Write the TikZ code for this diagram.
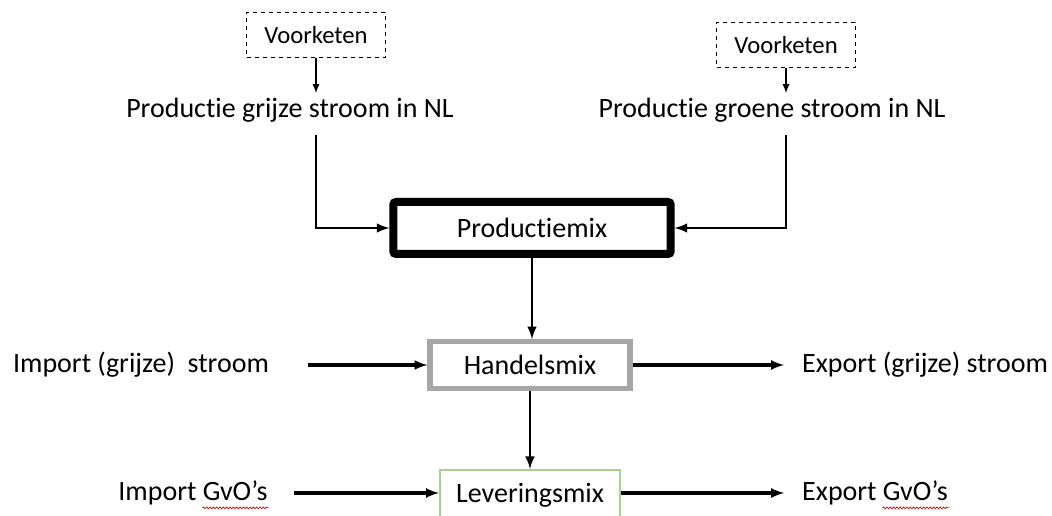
\documentclass[tikz,border=0pt]{standalone}
\usepackage{fontspec}
\setmainfont[Ligatures=NoCommon]{Carlito}
\usepackage{tikz}
\usetikzlibrary{positioning}
\usetikzlibrary{arrows}
\usetikzlibrary{calc}
\usetikzlibrary{decorations.pathmorphing}
\definecolor{grijs}{RGB}{166,166,166}
\definecolor{groen}{RGB}{169,208,142}
\tikzset{
  txt/.style={font=\fontsize{21}{25}\selectfont},
  keten/.style={draw, dashed, thin, minimum width=104pt, minimum height=34pt, font=\fontsize{18.5}{22}\selectfont},
  mixbox/.style={draw, minimum height=39pt, font=\fontsize{21}{25}\selectfont},
  spell/.style={red!80!black, line width=0.5pt, decorate, decoration={snake, amplitude=0.7pt, segment length=2.5pt}}
}

\begin{document}
\begin{tikzpicture}[x=0.75pt, y=-0.75pt]
\useasboundingbox (0,0) rectangle (1052,516);
% bovenste laag
\node[keten] (vk1) at (316,35) {Voorketen};
\node[keten] (vk2) at (786,45) {Voorketen};
\node[txt] (pg) at (290,110) {Productie grijze stroom in NL};
\node[txt] (pr) at (772,110) {Productie groene stroom in NL};
% mixen
\node[mixbox, line width=6pt, rounded corners=2pt, minimum width=208pt] (pm) at (532,228) {Productiemix};
\node[mixbox, line width=3.8pt, draw=grijs, minimum width=150pt, minimum height=35pt] (hm) at (530,365) {Handelsmix};
\node[mixbox, line width=1.5pt, draw=groen, minimum width=135pt, minimum height=45pt, text depth=10pt] (lm) at (530,500) {Leveringsmix};
% import en export
\node[txt] (ig) at (141,365) {Import (grijze)\ \ stroom};
\node[txt] (eg) at (925,365) {Export (grijze) stroom};
\node[txt] (igo) at (193,493) {Import GvO’s};
\node[txt] (ego) at (875,493) {Export GvO’s};
%\draw[->,->=latex] (vk1) -- (pg);
\draw[-latex, line width=1.3pt] (vk1) -- (vk1 |- pg.north);
\draw[-latex, line width=1.3pt] (vk2) -- (vk2 |- pr.north);
\draw[-latex, line width=2.2pt, shorten <=6pt] (pg.south -| vk1) |- (pm.west);
\draw[-latex, line width=2.2pt, shorten <=6pt] (pr.south -| vk2) |- (pm.east);
\draw[-latex, line width=2.2pt] (pm.south) -- (pm.south |- hm.north);
\draw[-latex, line width=2.2pt] (hm) -- (lm.north);
\draw[-latex, line width=2.3pt, shorten <=26pt] (ig) -- (hm);
\draw[-latex, line width=2.3pt, shorten >=10pt] (hm) -- (eg);
\draw[-latex, line width=2.3pt, shorten <=16pt] (igo) -- (lm.west |- igo);
\draw[-latex, line width=2.3pt, shorten >=10pt] (lm.east |- ego) -- (ego);
% rode kringels
\draw[spell] ($(igo.south east)+(-70,-2)$) -- ($(igo.south east)+(-3,-2)$);
\draw[spell] ($(ego.south east)+(-70,-2)$) -- ($(ego.south east)+(-3,-2)$);
\end{tikzpicture}
\end{document}
